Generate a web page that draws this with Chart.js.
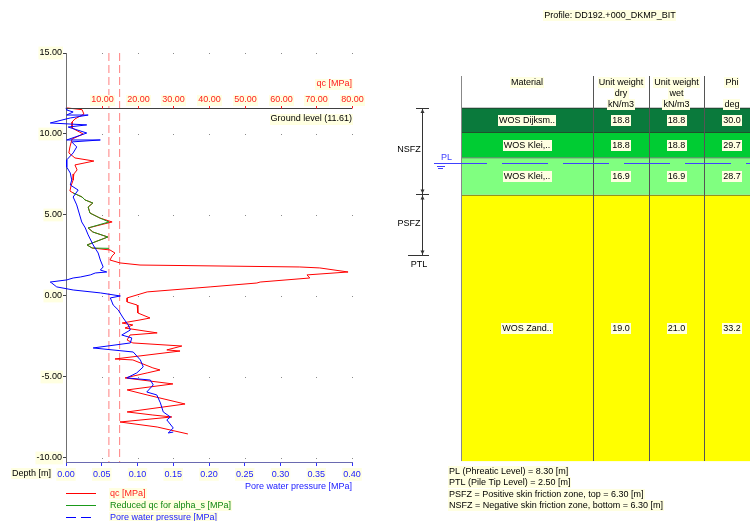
<!DOCTYPE html>
<html>
<head>
<meta charset="utf-8">
<script src="https://cdn.jsdelivr.net/npm/chart.js@4.4.0/dist/chart.umd.min.js"></script>
<style>
    html, body { margin: 0; padding: 0; background: #fff; overflow: hidden; width: 750px; height: 521px; }
    #leftChart { position: absolute; left: 0; top: 0; }
    #rightChart { position: absolute; left: 380px; top: 0; }
</style>
</head>
<body>
<canvas id="leftChart" width="380" height="521"></canvas>
<canvas id="rightChart" width="370" height="521"></canvas>
<script>
// --- DATOS ---
const yMin = -10.25;
const yMax = 15;
const yTicks = [-10, -5, 0, 5, 10, 15];
const poreTicks = [0, 0.05, 0.10, 0.15, 0.20, 0.25, 0.30, 0.35, 0.40];
const qcTicks = [10, 20, 30, 40, 50, 60, 70, 80];
const groundLevel = 11.61;
const limitQc = [12, 15];

// qc (rojo)
const qcDepth = [11.61, 11.5, 11.23, 10.93, 10.74, 10.37, 10.0, 9.69, 9.2, 8.83,
    8.52, 8.33, 8.09, 7.78, 7.53, 7.16, 6.79, 6.48, 6.36, 6.11,
    5.93, 5.74, 5.49, 5.12, 4.81, 4.57, 4.2, 3.95, 3.64, 3.15,
    2.96, 2.84, 2.65, 2.47, 2.22, 2.04, 1.91, 1.79, 1.73, 1.48,
    1.3, 1.11, 0.86, 0.8, 0.56, 0.25, -0.12, -0.37, -0.56, -1.05,
    -1.36, -1.48, -1.67, -1.79, -1.98, -2.28, -2.41, -2.72, -2.9, -3.09,
    -3.33, -3.4, -3.89, -3.95, -4.44, -4.57, -4.75, -5.06, -5.43, -5.8,
    -6.11, -6.67, -7.16, -7.35, -7.47, -7.78, -8.09, -8.52];
const qcMPa = [0.3, 4.5, 5.0, 2.5, 1.7, 1.7, 4.8, 1.7, 1.1, 0.8,
    2.5, 7.8, 2.5, 3.1, 2.2, 2.0, 1.4, 1.1, 2.0, 4.5,
    5.3, 7.5, 6.2, 6.7, 9.5, 12.9, 6.2, 7.5, 11.7, 5.9,
    7.3, 12.3, 13.7, 12.9, 12.3, 15.1, 20.7, 65.4, 71.0, 78.9,
    67.4, 68.2, 54.3, 53.4, 40.3, 22.7, 17.1, 17.1, 19.9, 20.1,
    23.5, 20.7, 15.7, 18.7, 16.5, 25.5, 17.9, 17.1, 18.7, 32.4,
    28.2, 31.9, 13.7, 18.7, 24.3, 26.3, 22.7, 16.5, 29.9, 17.1,
    22.7, 33.3, 17.1, 24.3, 29.6, 15.1, 25.5, 34.1];

// qc reducido para alpha_s (verde)
const reducedDepth = [6.36, 6.11, 5.93, 5.74, 5.49, 5.12, 4.81, 4.57, 4.2, 3.95, 3.64, 3.15, 2.96, 2.94];
const reducedMPa = [2.0, 4.5, 5.3, 7.5, 6.2, 6.7, 9.5, 12.0, 6.2, 7.5, 11.7, 5.9, 7.3, 12.0];

// presión de poros (azul)
const poreDepth = [11.61, 11.48, 11.36, 11.17, 11.17, 10.99, 10.68, 10.56, 10.43, 10.06,
    9.63, 9.63, 9.51, 9.2, 8.83, 8.4, 7.96, 7.59, 7.16, 6.85,
    6.54, 6.11, 5.62, 4.57, 4.2, 3.77, 3.15, 2.65, 2.22, 1.79,
    1.6, 1.48, 1.42, 1.3, 1.17, 1.11, 0.99, 0.86, 0.8, 0.56,
    0.37, 0.19, 0.0, -0.12, -0.56, -0.86, -1.36, -1.79, -2.1, -2.41,
    -2.59, -2.9, -3.21, -3.46, -3.95, -4.38, -4.75, -5.06, -5.19, -5.49,
    -5.93, -6.11, -6.6, -7.16, -7.47, -7.65, -8.15, -8.46, -8.4];
const poreMPa = [0.0, 0.001, 0.010, 0.001, 0.031, 0.006, -0.022, 0.029, 0.003, 0.029,
    0.001, 0.048, 0.008, 0.015, 0.010, 0.001, 0.001, 0.006, 0.008, 0.006,
    0.017, 0.010, 0.015, 0.022, 0.027, 0.031, 0.038, 0.045, 0.048, 0.052,
    0.048, 0.057, 0.041, 0.034, 0.020, 0.010, 0.001, -0.022, -0.020, -0.013,
    0.010, 0.048, 0.076, 0.062, 0.066, 0.073, 0.080, 0.087, 0.090, 0.078,
    0.092, 0.090, 0.038, 0.094, 0.104, 0.108, 0.099, 0.085, 0.118, 0.122,
    0.113, 0.127, 0.132, 0.136, 0.146, 0.141, 0.150, 0.143, 0.150];

// capas del perfil (tabla derecha)
const profileName = 'Profile: DD192.+000_DKMP_BIT';
const layerName = ['WOS Dijksm..', 'WOS Klei,..', 'WOS Klei,..', 'WOS Zand..'];
const layerTop = [11.61, 10.12, 8.55, 6.25];
const layerBottom = [10.12, 8.55, 6.25, -10.2];
const layerDry = [18.8, 18.8, 16.9, 19.0];
const layerWet = [18.8, 18.8, 16.9, 21.0];
const layerPhi = [30.0, 29.7, 28.7, 33.2];
const layerColors = ['#0a7a3c', '#00cc33', '#80ff80', '#ffff00'];
const headers = [['Material'], ['Unit weight', 'dry', 'kN/m3'], ['Unit weight', 'wet', 'kN/m3'], ['Phi', '', 'deg']];
const phreaticLevel = 8.30;
const pileTipLevel = 2.50;
const frictionBoundary = 6.30;

const FONT = '"Liberation Sans", Arial, sans-serif';
const FS = 9;

// Texto con fondo amarillo pálido (como en el original)
function label(ctx, text, x, y, align, color, backdrop = true) {
    ctx.font = FS + 'px ' + FONT;
    const w = ctx.measureText(text).width;
    const x0 = align === 'right' ? x - w : align === 'center' ? x - w / 2 : x;
    if (backdrop) {
        ctx.fillStyle = '#ffffe1';
        ctx.fillRect(Math.round(x0) - 1, Math.round(y) - 5, Math.round(w) + 2, 11);
    }
    ctx.fillStyle = color;
    ctx.textAlign = 'left';
    ctx.textBaseline = 'middle';
    ctx.fillText(text, x0, y + 0.5);
}

// --- GRÁFICO IZQUIERDO: CPT ---
const leftDecor = {
    id: 'leftDecor',
    beforeDatasetsDraw(chart) {
        const { ctx, scales: { x, y } } = chart;
        ctx.save();
        ctx.fillStyle = '#8a8a8a';
        poreTicks.forEach(v => {
            if (v === 0) return;
            yTicks.forEach(d => ctx.fillRect(Math.round(x.getPixelForValue(v)), Math.round(y.getPixelForValue(d)), 1, 1));
        });
        ctx.restore();
    },
    afterDraw(chart) {
        const { ctx, chartArea, scales: { xq, y } } = chart;
        const gy = Math.round(y.getPixelForValue(groundLevel)) + 0.5;
        ctx.save();
        // nivel del terreno = eje qc
        ctx.strokeStyle = '#404040';
        ctx.lineWidth = 1;
        ctx.beginPath();
        ctx.moveTo(chartArea.left, gy);
        ctx.lineTo(chartArea.right, gy);
        ctx.stroke();
        ctx.strokeStyle = '#ff2020';
        qcTicks.forEach(v => {
            const px = Math.round(xq.getPixelForValue(v)) + 0.5;
            ctx.beginPath();
            ctx.moveTo(px, gy);
            ctx.lineTo(px, gy - 4);
            ctx.stroke();
            label(ctx, v.toFixed(2), px, gy - 9, 'center', '#ff2020');
        });
        label(ctx, 'qc [MPa]', chartArea.right, gy - 25, 'right', '#ff2020');
        label(ctx, 'Ground level (' + groundLevel.toFixed(2) + ')', chartArea.right, gy + 10, 'right', '#000');
        label(ctx, 'Depth [m]', 12, 473, 'left', '#000');

        // leyenda
        let ly = 493;
        chart.data.datasets.filter(ds => ds.legendText).reverse().forEach(ds => {
            ctx.strokeStyle = ds.borderColor;
            ctx.setLineDash(ds.legendDash || []);
            ctx.beginPath();
            ctx.moveTo(66, ly + 0.5);
            ctx.lineTo(96, ly + 0.5);
            ctx.stroke();
            ctx.setLineDash([]);
            label(ctx, ds.legendText, 110, ly, 'left', ds.legendColor);
            ly += 12;
        });
        ctx.restore();
    }
};

const lineStyle = { showLine: true, pointRadius: 0, borderWidth: 1, tension: 0 };

new Chart(document.getElementById('leftChart'), {
    type: 'scatter',
    data: {
        datasets: [
            {
                ...lineStyle,
                data: poreDepth.map((d, i) => ({ x: poreMPa[i], y: d })),
                xAxisID: 'x',
                borderColor: '#0000ff',
                clip: false,
                legendText: 'Pore water pressure [MPa]',
                legendColor: '#2020ff',
                legendDash: [10, 5]
            },
            {
                ...lineStyle,
                data: reducedDepth.map((d, i) => ({ x: reducedMPa[i], y: d })),
                xAxisID: 'xq',
                borderColor: '#1a9a1a',
                legendText: 'Reduced qc for alpha_s [MPa]',
                legendColor: '#118811'
            },
            {
                ...lineStyle,
                data: qcDepth.map((d, i) => ({ x: qcMPa[i], y: d })),
                xAxisID: 'xq',
                borderColor: '#ff0000',
                clip: false,
                legendText: 'qc [MPa]',
                legendColor: '#ff2020'
            },
            ...limitQc.map(v => ({
                ...lineStyle,
                data: [{ x: v, y: yMax }, { x: v, y: yMin }],
                xAxisID: 'xq',
                borderColor: '#ff8080',
                borderDash: [8, 4]
            }))
        ]
    },
    options: {
        responsive: false,
        animation: false,
        layout: { padding: { top: 53, right: 28, bottom: 27, left: 0 } },
        plugins: { legend: { display: false }, tooltip: { enabled: false } },
        scales: {
            x: {
                type: 'linear',
                position: 'bottom',
                min: 0,
                max: 0.4,
                afterBuildTicks: s => { s.ticks = poreTicks.map(v => ({ value: v })); },
                afterFit: s => { s.height = 32; },
                ticks: {
                    callback: v => Number(v).toFixed(2),
                    color: '#2020ff',
                    font: { family: FONT, size: FS },
                    padding: 3,
                    maxRotation: 0,
                    autoSkip: false,
                    showLabelBackdrop: true,
                    backdropColor: '#ffffe1',
                    backdropPadding: 1
                },
                grid: { drawOnChartArea: false, tickLength: 4, color: '#3030ff' },
                border: { color: '#6a6ab0' },
                title: {
                    display: true,
                    text: 'Pore water pressure [MPa]',
                    align: 'end',
                    color: '#2020ff',
                    font: { family: FONT, size: FS },
                    padding: { top: 0, bottom: 2 }
                }
            },
            xq: {
                type: 'linear',
                position: 'top',
                display: false,
                min: 0,
                max: 80
            },
            y: {
                type: 'linear',
                min: yMin,
                max: yMax,
                afterBuildTicks: s => { s.ticks = yTicks.map(v => ({ value: v })); },
                afterFit: s => { s.width = 66; },
                ticks: {
                    callback: v => Number(v).toFixed(2),
                    color: '#000',
                    font: { family: FONT, size: FS },
                    padding: 1,
                    showLabelBackdrop: true,
                    backdropColor: '#ffffe1',
                    backdropPadding: 1
                },
                grid: { drawOnChartArea: false, tickLength: 3, color: '#404040' },
                border: { color: '#707070' }
            }
        }
    },
    plugins: [leftDecor]
});

// --- GRÁFICO DERECHO: TABLA DE CAPAS ---
function arrow(ctx, x, y, dir) {
    ctx.beginPath();
    ctx.moveTo(x, y);
    ctx.lineTo(x - 2, y - 4 * dir);
    ctx.lineTo(x + 2, y - 4 * dir);
    ctx.closePath();
    ctx.fill();
}

const tableDecor = {
    id: 'tableDecor',
    afterDatasetsDraw(chart) {
        const { ctx, chartArea, scales: { y } } = chart;
        const L = chartArea.left;
        const cols = [0, 132, 188, 243, 299].map(v => L + v);
        const top = Math.round(y.getPixelForValue(groundLevel));
        const bottom = Math.round(y.getPixelForValue(layerBottom[layerBottom.length - 1]));
        ctx.save();

        label(ctx, profileName, 230, 15, 'center', '#000');

        // líneas de columnas
        ctx.lineWidth = 1;
        cols.forEach((cx, i) => {
            ctx.strokeStyle = i === 0 ? '#888' : '#555';
            ctx.beginPath();
            ctx.moveTo(Math.round(cx) + 0.5, top - 32);
            ctx.lineTo(Math.round(cx) + 0.5, bottom);
            ctx.stroke();
        });

        // encabezados
        headers.forEach((lines, i) => {
            const cx = (cols[i] + cols[i + 1]) / 2;
            lines.forEach((t, k) => { if (t) label(ctx, t, cx, top - 26 + k * 11, 'center', '#000'); });
        });

        // valores por capa
        layerName.forEach((n, i) => {
            const cy = (y.getPixelForValue(layerTop[i]) + y.getPixelForValue(layerBottom[i])) / 2;
            const vals = [n, layerDry[i].toFixed(1), layerWet[i].toFixed(1), layerPhi[i].toFixed(1)];
            vals.forEach((t, k) => label(ctx, t, (cols[k] + cols[k + 1]) / 2, cy, 'center', '#000'));
        });

        // zonas de fricción
        const zx = 42.5;
        const yB = Math.round(y.getPixelForValue(frictionBoundary)) + 0.5;
        const yP = Math.round(y.getPixelForValue(pileTipLevel)) + 0.5;
        ctx.strokeStyle = '#333';
        ctx.fillStyle = '#333';
        ctx.beginPath();
        ctx.moveTo(zx, top + 0.5); ctx.lineTo(zx, yP);
        ctx.moveTo(36, top + 0.5); ctx.lineTo(49, top + 0.5);
        ctx.moveTo(36, yB); ctx.lineTo(49, yB);
        ctx.moveTo(28, yP); ctx.lineTo(49, yP);
        ctx.stroke();
        arrow(ctx, zx, top + 1, -1);
        arrow(ctx, zx, yB - 1, 1);
        arrow(ctx, zx, yB + 1, -1);
        arrow(ctx, zx, yP - 1, 1);
        label(ctx, 'NSFZ', 29, (top + yB) / 2 - 2, 'center', '#000', false);
        label(ctx, 'PSFZ', 29, (yB + yP) / 2 - 2, 'center', '#000', false);
        label(ctx, 'PTL', 39, yP + 9, 'center', '#000', false);

        // nivel freático
        const py = Math.round(y.getPixelForValue(phreaticLevel)) + 1.5;
        ctx.strokeStyle = '#4040ff';
        label(ctx, 'PL', 66.5, py - 6, 'center', '#4040ff', false);
        ctx.beginPath();
        ctx.moveTo(54, py); ctx.lineTo(61, py);
        ctx.moveTo(57, py + 3); ctx.lineTo(65, py + 3);
        ctx.moveTo(58, py + 5); ctx.lineTo(63, py + 5);
        ctx.stroke();
        ctx.setLineDash([46, 15]);
        ctx.beginPath();
        ctx.moveTo(61, py); ctx.lineTo(370, py);
        ctx.stroke();
        ctx.setLineDash([]);

        // notas al pie
        const notes = [
            'PL (Phreatic Level) = ' + phreaticLevel.toFixed(2) + ' [m]',
            'PTL (Pile Tip Level) = ' + pileTipLevel.toFixed(2) + ' [m]',
            'PSFZ = Positive skin friction zone, top = ' + frictionBoundary.toFixed(2) + ' [m]',
            'NSFZ = Negative skin friction zone, bottom = ' + frictionBoundary.toFixed(2) + ' [m]'
        ];
        notes.forEach((t, i) => label(ctx, t, 69, 471 + i * 11.3, 'left', '#000'));
        ctx.restore();
    }
};

new Chart(document.getElementById('rightChart'), {
    type: 'bar',
    data: {
        labels: [''],
        datasets: layerName.map((n, i) => ({
            label: n,
            data: [[layerBottom[i], layerTop[i]]],
            backgroundColor: layerColors[i],
            borderColor: '#2a2a2a',
            borderWidth: { top: 1, bottom: 0, left: 0, right: 0 },
            borderSkipped: false,
            grouped: false,
            barPercentage: 1,
            categoryPercentage: 1
        }))
    },
    options: {
        responsive: false,
        animation: false,
        layout: { padding: { left: 81, top: 53, bottom: 59, right: 0 } },
        plugins: { legend: { display: false }, tooltip: { enabled: false } },
        scales: {
            x: { display: false },
            y: { display: false, min: yMin, max: yMax }
        }
    },
    plugins: [tableDecor]
});
</script>
</body>
</html>
